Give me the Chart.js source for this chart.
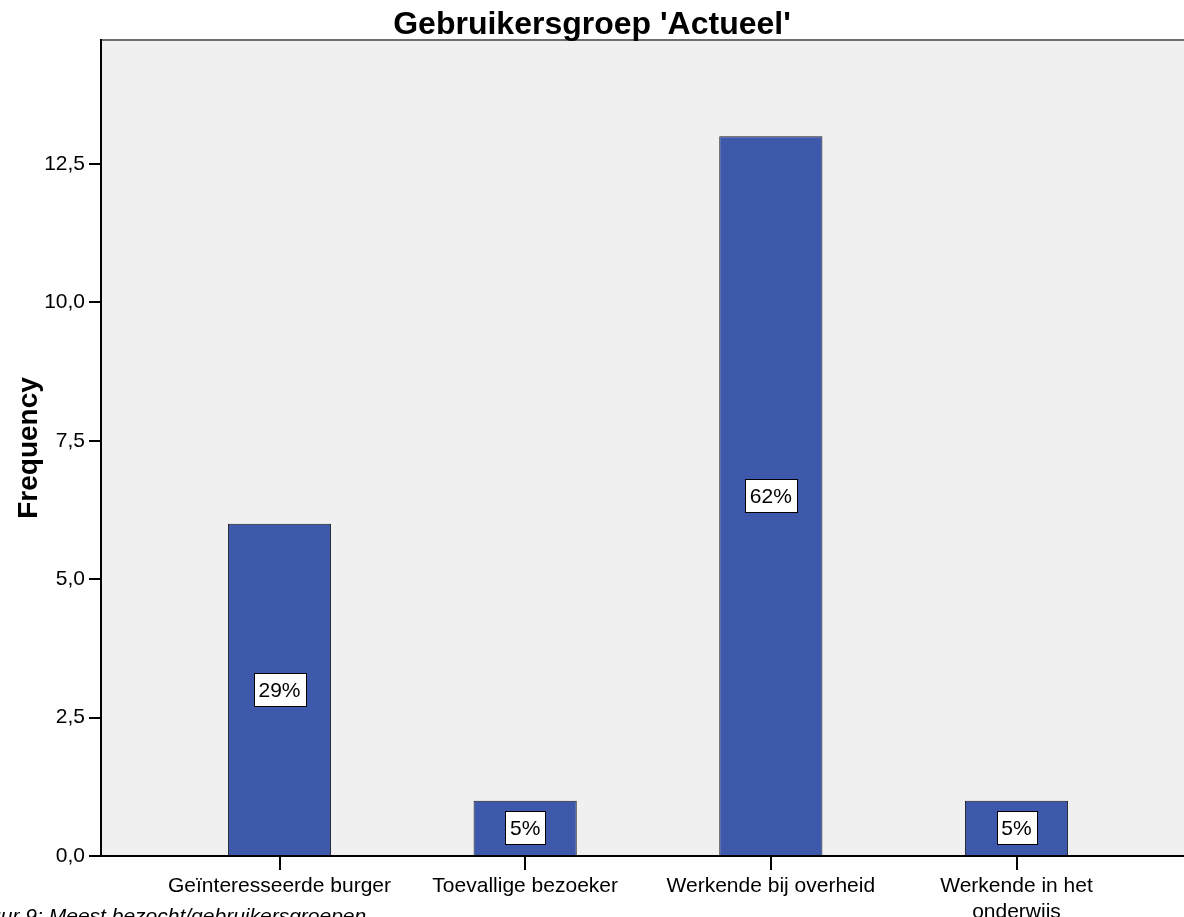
<!DOCTYPE html>
<html>
<head>
<meta charset="utf-8">
<script src="https://cdn.jsdelivr.net/npm/chart.js@4/dist/chart.umd.min.js"></script>
<style>
  html, body { margin: 0; padding: 0; background: #fff; overflow: hidden; }
  #wrap { position: relative; width: 1184px; height: 917px; }
  #caption {
    position: absolute; left: -40px; top: 904px; white-space: nowrap;
    font: italic 21px Arial, "Liberation Sans", sans-serif; color: #000;
  }
</style>
</head>
<body>
<div id="wrap">
  <canvas id="chart"></canvas>
  <div id="caption">Figuur 9: Meest bezocht/gebruikersgroepen</div>
</div>
<script>
const categories = [
  "Geïnteresseerde burger",
  "Toevallige bezoeker",
  "Werkende bij overheid",
  ["Werkende in het", "onderwijs"],
]
const frequencies = [6, 1, 13, 1]
const yTicks = [0, 2.5, 5, 7.5, 10, 12.5]

const total = frequencies.reduce((a, b) => a + b, 0)
const FONT = "Arial, 'Liberation Sans', sans-serif"

// grey plot background + top border line
const plotBackground = {
  id: "plotBackground",
  beforeDraw(chart) {
    const { ctx, chartArea: a } = chart
    ctx.save()
    ctx.fillStyle = "#f0f0f0"
    ctx.fillRect(a.left, a.top, a.right - a.left, a.bottom - a.top)
    ctx.strokeStyle = "#707070"
    ctx.lineWidth = 2
    ctx.beginPath()
    ctx.moveTo(a.left, a.top)
    ctx.lineTo(a.right, a.top)
    ctx.stroke()
    ctx.restore()
  },
}

// percentage boxes in the middle of each bar
const percentLabels = {
  id: "percentLabels",
  afterDatasetsDraw(chart) {
    const { ctx } = chart
    const meta = chart.getDatasetMeta(0)
    ctx.save()
    ctx.font = "21px " + FONT
    ctx.textAlign = "center"
    ctx.textBaseline = "middle"
    meta.data.forEach((bar, i) => {
      const text = Math.round((frequencies[i] / total) * 100) + "%"
      const w = Math.round(ctx.measureText(text).width + 10)
      const h = 33
      const x0 = Math.round(bar.x - w / 2) + 0.5
      const y0 = Math.round((bar.y + bar.base) / 2 - h / 2) + 0.5
      ctx.fillStyle = "#fff"
      ctx.fillRect(x0, y0, w, h)
      ctx.strokeStyle = "#000"
      ctx.lineWidth = 1
      ctx.strokeRect(x0, y0, w, h)
      ctx.fillStyle = "#000"
      ctx.fillText(text, bar.x, y0 + h / 2 + 1)
    })
    ctx.restore()
  },
}

new Chart(document.getElementById("chart"), {
  type: "bar",
  data: {
    datasets: [
      {
        label: "Frequency",
        data: frequencies.map((v, i) => ({ x: i, y: v })),
        backgroundColor: "#3e58ac",
        borderColor: "#1a1a1a",
        borderWidth: 1,
        borderSkipped: "bottom",
        categoryPercentage: 1,
        barPercentage: 0.42,
      },
    ],
  },
  options: {
    responsive: true,
    maintainAspectRatio: false,
    animation: false,
    layout: { padding: 0 },
    plugins: {
      legend: { display: false },
      tooltip: { enabled: false },
      title: {
        display: true,
        text: "Gebruikersgroep 'Actueel'",
        color: "#000",
        font: { family: FONT, size: 32, weight: "bold", lineHeight: "30px" },
        padding: { top: 10, bottom: 0 },
      },
    },
    scales: {
      x: {
        type: "linear",
        offset: false,
        min: -0.7266,
        max: 3.6818,
        afterFit: (scale) => { scale.height = 61 },
        border: { display: true, color: "#000", width: 2 },
        grid: { offset: false, drawOnChartArea: false, drawTicks: true, tickLength: 14, color: "#000", lineWidth: 2 },
        ticks: {
          stepSize: 1,
          includeBounds: false,
          autoSkip: false,
          maxRotation: 0,
          padding: 4,
          color: "#000",
          font: { family: FONT, size: 21 },
          callback: (v) => (Number.isInteger(v) && categories[v] ? categories[v] : ""),
        },
      },
      y: {
        min: 0,
        max: 14.74,
        afterFit: (scale) => { scale.width = 101 },
        afterBuildTicks: (scale) => { scale.ticks = yTicks.map((v) => ({ value: v })) },
        border: { display: true, color: "#000", width: 2 },
        grid: { drawOnChartArea: false, drawTicks: true, tickLength: 12, color: "#000", lineWidth: 2 },
        title: {
          display: true,
          text: "Frequency",
          color: "#000",
          font: { family: FONT, size: 28, weight: "bold" },
          padding: { top: 12, bottom: 0 },
        },
        ticks: {
          padding: 4,
          color: "#000",
          font: { family: FONT, size: 21 },
          callback: (v) => v.toFixed(1).replace(".", ","),
        },
      },
    },
  },
  plugins: [plotBackground, percentLabels],
})
</script>
</body>
</html>
